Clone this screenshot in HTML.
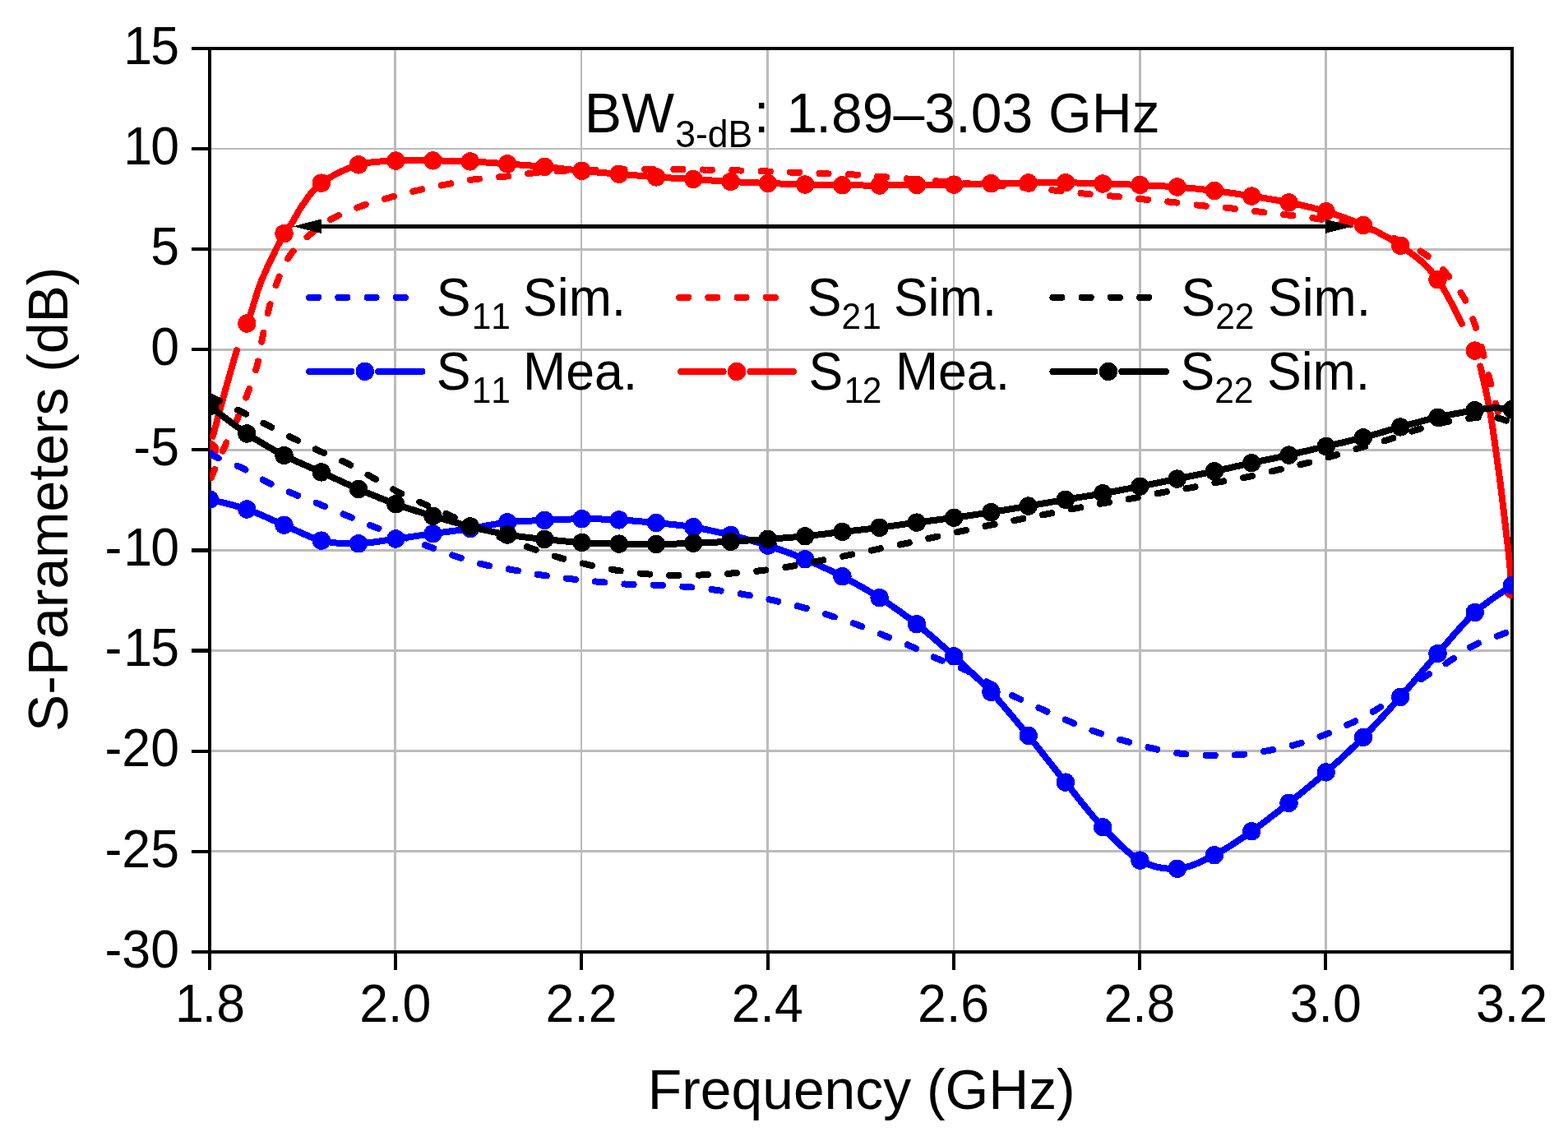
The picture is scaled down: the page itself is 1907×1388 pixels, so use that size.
<!DOCTYPE html>
<html lang="en"><head><meta charset="utf-8"><title>S-Parameters vs Frequency</title>
<style>html,body{margin:0;padding:0;background:#fff;}body{width:1907px;height:1388px;overflow:hidden;}svg{display:block;}text{font-family:"Liberation Sans",sans-serif;fill:#000;font-kerning:none;white-space:pre;}</style></head><body>
<svg role="img" aria-label="S-Parameters (dB) versus Frequency (GHz)" width="1907" height="1388" viewBox="0 0 1907 1388">
<rect width="1907" height="1388" fill="#fff"/>
<defs><clipPath id="pc"><rect x="255.0" y="59.0" width="1584.7" height="1099.0"/></clipPath></defs>
<g fill="#bbbbbb" shape-rendering="crispEdges">
<rect x="479" y="61" width="3" height="1095"/>
<rect x="706" y="61" width="2" height="1095"/>
<rect x="932" y="61" width="3" height="1095"/>
<rect x="1159" y="61" width="2" height="1095"/>
<rect x="1385" y="61" width="3" height="1095"/>
<rect x="1611" y="61" width="3" height="1095"/>
<rect x="257" y="180" width="1580" height="2"/>
<rect x="257" y="302" width="1580" height="3"/>
<rect x="257" y="424" width="1580" height="3"/>
<rect x="257" y="546" width="1580" height="3"/>
<rect x="257" y="668" width="1580" height="3"/>
<rect x="257" y="790" width="1580" height="3"/>
<rect x="257" y="912" width="1580" height="3"/>
<rect x="257" y="1034" width="1580" height="3"/>
</g>
<g fill="#000" shape-rendering="crispEdges">
<rect x="233" y="57" width="1608" height="4"/>
<rect x="233" y="1156" width="1608" height="4"/>
<rect x="253" y="57" width="4" height="1123"/>
<rect x="1837" y="57" width="4" height="1123"/>
<rect x="233" y="179" width="20" height="4"/>
<rect x="233" y="301" width="20" height="4"/>
<rect x="233" y="423" width="20" height="4"/>
<rect x="233" y="545" width="20" height="4"/>
<rect x="233" y="667" width="20" height="5"/>
<rect x="233" y="789" width="20" height="5"/>
<rect x="233" y="912" width="20" height="4"/>
<rect x="233" y="1034" width="20" height="4"/>
<rect x="479" y="1160" width="4" height="20"/>
<rect x="705" y="1160" width="4" height="20"/>
<rect x="932" y="1160" width="4" height="20"/>
<rect x="1158" y="1160" width="4" height="20"/>
<rect x="1384" y="1160" width="4" height="20"/>
<rect x="1610" y="1160" width="4" height="20"/>
</g>
<g clip-path="url(#pc)" fill="none" stroke-linejoin="round" shape-rendering="crispEdges">
<path d="M254.0 590.0 L254.1 589.7 L254.2 589.4 L254.3 589.1 L254.4 588.7 L254.5 588.3 L254.7 587.9 L254.8 587.5 L254.9 587.1 L255.1 586.6 L255.2 586.1 L255.4 585.6 L255.6 585.0 L255.7 584.5 L255.9 583.9 L256.2 583.2 L256.4 582.6 L256.6 581.9 L256.9 581.2 L257.1 580.4 L257.4 579.6 L257.8 578.8 L258.1 578.0 L258.4 577.1 L258.8 576.2 L259.2 575.2 L259.6 574.2 L260.1 573.2 L260.5 572.1 L261.0 571.0 L261.5 569.8 L262.0 568.6 L262.5 567.4 L263.1 566.1 L263.7 564.8 L264.2 563.5 L264.8 562.2 L265.4 560.8 L266.0 559.4 L266.6 558.0 L267.2 556.6 L267.9 555.2 L268.5 553.8 L269.1 552.4 L269.8 551.0 L270.4 549.5 L271.0 548.1 L271.7 546.7 L272.3 545.3 L272.9 543.9 L273.6 542.4 L274.3 541.0 L274.9 539.5 L275.6 537.9 L276.3 536.4 L277.1 534.8 L277.8 533.3 L278.5 531.7 L279.2 530.1 L280.0 528.5 L280.7 527.0 L281.4 525.4 L282.2 523.8 L282.9 522.2 L283.6 520.6 L284.3 519.1 L285.0 517.5 L285.7 516.0 L286.4 514.5 L287.0 513.1 L287.7 511.6 L288.3 510.2 L288.9 508.8 L289.5 507.4 L290.1 506.1 L290.6 504.8 L291.2 503.6 L291.7 502.3 L292.2 501.1 L292.7 499.9 L293.2 498.7 L293.7 497.5 L294.2 496.4 L294.7 495.2 L295.1 494.0 L295.6 492.9 L296.1 491.7 L296.5 490.6 L297.0 489.4 L297.5 488.2 L297.9 487.1 L298.4 485.8 L298.9 484.6 L299.3 483.4 L299.8 482.1 L300.3 480.8 L300.8 479.5 L301.3 478.2 L301.8 476.8 L302.3 475.4 L302.8 474.0 L303.4 472.6 L303.9 471.2 L304.4 469.7 L305.0 468.3 L305.5 466.8 L306.0 465.4 L306.6 463.9 L307.1 462.4 L307.6 460.9 L308.1 459.4 L308.6 457.9 L309.1 456.4 L309.6 454.9 L310.1 453.5 L310.6 452.0 L311.0 450.5 L311.5 449.0 L311.9 447.5 L312.3 446.1 L312.7 444.6 L313.1 443.1 L313.4 441.7 L313.8 440.2 L314.1 438.8 L314.4 437.3 L314.7 435.9 L315.0 434.4 L315.3 432.9 L315.6 431.5 L315.8 430.0 L316.1 428.6 L316.3 427.1 L316.6 425.6 L316.8 424.2 L317.1 422.7 L317.3 421.3 L317.5 419.8 L317.8 418.4 L318.0 416.9 L318.3 415.5 L318.6 414.0 L318.8 412.6 L319.1 411.1 L319.4 409.7 L319.7 408.3 L320.0 406.8 L320.3 405.4 L320.6 404.0 L320.9 402.5 L321.2 401.1 L321.5 399.7 L321.8 398.2 L322.1 396.8 L322.4 395.4 L322.7 393.9 L323.0 392.5 L323.3 391.1 L323.6 389.7 L323.9 388.2 L324.2 386.8 L324.6 385.4 L324.9 384.0 L325.2 382.6 L325.6 381.2 L325.9 379.8 L326.3 378.4 L326.6 377.0 L327.0 375.6 L327.4 374.2 L327.7 372.8 L328.1 371.4 L328.5 370.1 L328.9 368.7 L329.2 367.3 L329.6 365.9 L330.0 364.6 L330.4 363.2 L330.8 361.8 L331.2 360.5 L331.6 359.1 L332.0 357.7 L332.4 356.4 L332.8 355.0 L333.3 353.7 L333.7 352.3 L334.2 351.0 L334.6 349.6 L335.1 348.3 L335.6 346.9 L336.1 345.6 L336.6 344.2 L337.1 342.9 L337.6 341.6 L338.2 340.2 L338.7 338.9 L339.2 337.5 L339.8 336.1 L340.3 334.8 L340.9 333.4 L341.4 332.0 L342.0 330.7 L342.6 329.3 L343.2 328.0 L343.8 326.6 L344.4 325.3 L345.0 324.0 L345.7 322.6 L346.3 321.3 L347.0 320.0 L347.7 318.7 L348.4 317.4 L349.1 316.2 L349.9 314.9 L350.6 313.7 L351.4 312.5 L352.2 311.3 L353.0 310.1 L353.9 309.0 L354.7 307.8 L355.6 306.7 L356.5 305.6 L357.4 304.5 L358.3 303.4 L359.3 302.3 L360.2 301.2 L361.2 300.2 L362.2 299.1 L363.2 298.1 L364.2 297.0 L365.2 296.0 L366.3 295.0 L367.3 294.0 L368.4 293.0 L369.5 292.0 L370.6 291.0 L371.6 290.0 L372.7 289.0 L373.9 288.0 L375.0 287.1 L376.1 286.1 L377.2 285.1 L378.4 284.2 L379.6 283.2 L380.8 282.2 L382.0 281.3 L383.2 280.3 L384.4 279.4 L385.6 278.4 L386.9 277.5 L388.1 276.5 L389.4 275.6 L390.7 274.7 L392.0 273.8 L393.3 272.9 L394.6 272.0 L395.9 271.1 L397.2 270.3 L398.5 269.4 L399.8 268.6 L401.1 267.8 L402.4 267.0 L403.8 266.2 L405.1 265.4 L406.4 264.7 L407.7 264.0 L409.0 263.3 L410.4 262.6 L411.7 261.9 L413.0 261.3 L414.4 260.6 L415.7 260.0 L417.1 259.4 L418.4 258.8 L419.8 258.2 L421.2 257.6 L422.5 257.1 L423.9 256.5 L425.3 256.0 L426.6 255.4 L428.0 254.9 L429.4 254.4 L430.8 253.9 L432.2 253.3 L433.6 252.8 L435.0 252.3 L436.4 251.8 L437.8 251.3 L439.2 250.8 L440.6 250.3 L442.0 249.8 L443.5 249.3 L444.9 248.8 L446.3 248.4 L447.8 247.9 L449.2 247.4 L450.7 247.0 L452.1 246.5 L453.6 246.1 L455.0 245.7 L456.5 245.2 L458.0 244.8 L459.4 244.4 L460.9 244.0 L462.3 243.6 L463.8 243.1 L465.3 242.7 L466.7 242.3 L468.2 241.9 L469.7 241.5 L471.1 241.1 L472.6 240.7 L474.0 240.3 L475.4 239.9 L476.9 239.5 L478.3 239.1 L479.8 238.7 L481.2 238.3 L482.7 237.9 L484.1 237.5 L485.5 237.1 L487.0 236.8 L488.4 236.4 L489.9 236.0 L491.3 235.6 L492.7 235.3 L494.2 234.9 L495.6 234.5 L497.0 234.2 L498.5 233.8 L499.9 233.5 L501.4 233.1 L502.8 232.8 L504.2 232.4 L505.6 232.1 L507.1 231.7 L508.5 231.4 L509.9 231.1 L511.3 230.7 L512.8 230.4 L514.2 230.1 L515.6 229.8 L517.0 229.5 L518.4 229.2 L519.8 228.9 L521.2 228.6 L522.6 228.3 L524.0 228.0 L525.5 227.7 L526.9 227.5 L528.3 227.2 L529.7 226.9 L531.1 226.6 L532.5 226.3 L533.9 226.1 L535.3 225.8 L536.8 225.5 L538.2 225.2 L539.6 225.0 L541.1 224.7 L542.5 224.4 L543.9 224.1 L545.4 223.8 L546.9 223.6 L548.3 223.3 L549.8 223.0 L551.2 222.7 L552.7 222.4 L554.2 222.1 L555.6 221.9 L557.1 221.6 L558.6 221.3 L560.1 221.0 L561.5 220.7 L563.0 220.5 L564.5 220.2 L566.0 220.0 L567.5 219.7 L568.9 219.4 L570.4 219.2 L571.9 219.0 L573.4 218.7 L574.9 218.5 L576.3 218.3 L577.8 218.1 L579.3 217.9 L580.7 217.7 L582.2 217.6 L583.7 217.4 L585.2 217.2 L586.6 217.1 L588.1 216.9 L589.6 216.8 L591.0 216.7 L592.5 216.6 L594.0 216.4 L595.5 216.3 L596.9 216.2 L598.4 216.1 L599.9 216.0 L601.3 215.9 L602.8 215.7 L604.3 215.6 L605.7 215.5 L607.2 215.4 L608.7 215.2 L610.2 215.1 L611.6 215.0 L613.1 214.8 L614.6 214.6 L616.1 214.5 L617.5 214.3 L619.0 214.1 L620.5 213.9 L622.0 213.8 L623.5 213.6 L625.0 213.4 L626.5 213.2 L628.0 213.0 L629.5 212.8 L631.0 212.6 L632.5 212.4 L634.0 212.2 L635.4 212.0 L636.9 211.8 L638.4 211.7 L639.8 211.5 L641.3 211.3 L642.7 211.1 L644.2 211.0 L645.6 210.8 L647.0 210.6 L648.4 210.5 L649.8 210.4 L651.2 210.2 L652.5 210.1 L653.9 210.0 L655.2 209.8 L656.5 209.7 L657.8 209.6 L659.1 209.5 L660.4 209.4 L661.7 209.3 L663.0 209.1 L664.3 209.0 L665.6 208.9 L666.9 208.8 L668.1 208.7 L669.4 208.7 L670.7 208.6 L672.0 208.5 L673.3 208.4 L674.6 208.3 L676.0 208.2 L677.3 208.2 L678.6 208.1 L680.0 208.0 L681.4 207.9 L682.7 207.9 L684.1 207.8 L685.5 207.7 L686.9 207.7 L688.3 207.6 L689.7 207.6 L691.1 207.5 L692.5 207.5 L693.9 207.5 L695.3 207.4 L696.7 207.4 L698.1 207.4 L699.6 207.3 L701.0 207.3 L702.4 207.3 L703.9 207.2 L705.3 207.2 L706.7 207.2 L708.2 207.1 L709.6 207.1 L711.1 207.1 L712.5 207.0 L714.0 207.0 L715.5 207.0 L716.9 206.9 L718.4 206.9 L719.8 206.9 L721.3 206.8 L722.8 206.8 L724.2 206.8 L725.7 206.7 L727.2 206.7 L728.7 206.7 L730.1 206.6 L731.6 206.6 L733.1 206.6 L734.6 206.5 L736.1 206.5 L737.6 206.5 L739.1 206.5 L740.7 206.4 L742.2 206.4 L743.7 206.4 L745.3 206.4 L746.9 206.3 L748.4 206.3 L750.0 206.3 L751.6 206.3 L753.2 206.3 L754.8 206.2 L756.5 206.2 L758.1 206.2 L759.8 206.2 L761.5 206.2 L763.2 206.2 L764.9 206.1 L766.6 206.1 L768.3 206.1 L770.0 206.1 L771.7 206.1 L773.4 206.1 L775.1 206.1 L776.8 206.1 L778.5 206.1 L780.2 206.1 L781.9 206.0 L783.5 206.0 L785.2 206.0 L786.8 206.0 L788.4 206.0 L790.0 206.0 L791.6 206.0 L793.1 206.0 L794.7 206.0 L796.2 206.0 L797.8 206.0 L799.3 205.9 L800.8 205.9 L802.3 205.9 L803.8 205.9 L805.3 205.9 L806.8 205.9 L808.3 205.9 L809.8 205.9 L811.3 205.9 L812.7 205.9 L814.2 205.9 L815.7 205.9 L817.2 205.9 L818.6 205.9 L820.1 205.9 L821.6 205.9 L823.0 205.9 L824.5 205.9 L826.0 205.9 L827.5 205.9 L828.9 205.9 L830.4 205.9 L831.9 206.0 L833.3 206.0 L834.8 206.0 L836.3 206.0 L837.7 206.1 L839.2 206.1 L840.6 206.1 L842.1 206.2 L843.5 206.2 L845.0 206.2 L846.4 206.3 L847.9 206.3 L849.3 206.3 L850.8 206.4 L852.2 206.4 L853.7 206.4 L855.1 206.5 L856.6 206.5 L858.1 206.5 L859.5 206.6 L861.0 206.6 L862.5 206.6 L864.0 206.7 L865.4 206.7 L866.9 206.7 L868.4 206.8 L869.9 206.8 L871.4 206.8 L872.9 206.9 L874.4 206.9 L875.9 206.9 L877.4 206.9 L878.9 207.0 L880.4 207.0 L881.8 207.0 L883.3 207.1 L884.8 207.1 L886.3 207.1 L887.8 207.2 L889.3 207.2 L890.8 207.3 L892.2 207.3 L893.7 207.3 L895.1 207.4 L896.6 207.4 L898.0 207.4 L899.5 207.5 L900.9 207.5 L902.3 207.6 L903.7 207.6 L905.2 207.6 L906.6 207.7 L908.0 207.7 L909.4 207.7 L910.8 207.8 L912.2 207.8 L913.6 207.9 L914.9 207.9 L916.3 208.0 L917.7 208.0 L919.1 208.0 L920.6 208.1 L922.0 208.1 L923.4 208.2 L924.8 208.2 L926.2 208.3 L927.7 208.3 L929.1 208.4 L930.6 208.4 L932.1 208.4 L933.6 208.5 L935.0 208.5 L936.5 208.6 L938.1 208.6 L939.6 208.7 L941.1 208.8 L942.6 208.8 L944.1 208.9 L945.7 208.9 L947.2 209.0 L948.7 209.0 L950.3 209.1 L951.8 209.1 L953.3 209.2 L954.9 209.2 L956.4 209.3 L957.9 209.4 L959.5 209.4 L961.0 209.5 L962.5 209.5 L964.0 209.6 L965.5 209.6 L967.0 209.7 L968.5 209.8 L970.0 209.8 L971.4 209.9 L972.9 209.9 L974.4 210.0 L975.8 210.1 L977.3 210.1 L978.7 210.2 L980.2 210.3 L981.7 210.3 L983.1 210.4 L984.5 210.5 L986.0 210.5 L987.4 210.6 L988.9 210.7 L990.3 210.7 L991.8 210.8 L993.2 210.8 L994.7 210.9 L996.1 211.0 L997.6 211.0 L999.1 211.1 L1000.5 211.1 L1002.0 211.2 L1003.5 211.3 L1004.9 211.3 L1006.4 211.4 L1007.9 211.4 L1009.4 211.4 L1010.9 211.5 L1012.3 211.5 L1013.8 211.6 L1015.3 211.6 L1016.8 211.7 L1018.3 211.7 L1019.8 211.7 L1021.3 211.8 L1022.8 211.8 L1024.2 211.9 L1025.7 211.9 L1027.2 212.0 L1028.7 212.0 L1030.2 212.1 L1031.7 212.1 L1033.2 212.2 L1034.6 212.3 L1036.1 212.3 L1037.6 212.4 L1039.1 212.5 L1040.6 212.6 L1042.0 212.7 L1043.5 212.7 L1045.0 212.8 L1046.4 212.9 L1047.9 213.0 L1049.4 213.1 L1050.8 213.3 L1052.3 213.4 L1053.7 213.5 L1055.2 213.6 L1056.7 213.7 L1058.1 213.8 L1059.6 213.9 L1061.1 214.1 L1062.6 214.2 L1064.0 214.3 L1065.5 214.4 L1067.0 214.5 L1068.5 214.6 L1070.0 214.8 L1071.5 214.9 L1073.0 215.0 L1074.5 215.1 L1076.0 215.2 L1077.5 215.3 L1078.9 215.5 L1080.4 215.6 L1081.9 215.7 L1083.3 215.8 L1084.8 215.9 L1086.2 216.1 L1087.7 216.2 L1089.2 216.3 L1090.7 216.4 L1092.1 216.5 L1093.7 216.7 L1095.2 216.8 L1096.7 216.9 L1098.3 217.0 L1099.9 217.2 L1101.5 217.3 L1103.1 217.4 L1104.8 217.6 L1106.5 217.7 L1108.2 217.9 L1110.0 218.0 L1111.8 218.1 L1113.7 218.3 L1115.6 218.5 L1117.6 218.6 L1119.6 218.8 L1121.6 219.0 L1123.7 219.1 L1125.7 219.3 L1127.8 219.5 L1130.0 219.6 L1132.1 219.8 L1134.2 220.0 L1136.4 220.2 L1138.5 220.4 L1140.7 220.5 L1142.8 220.7 L1144.9 220.9 L1147.0 221.0 L1149.1 221.2 L1151.2 221.4 L1153.2 221.5 L1155.2 221.7 L1157.1 221.9 L1159.0 222.0 L1160.9 222.1 L1162.7 222.3 L1164.4 222.4 L1166.2 222.6 L1167.9 222.7 L1169.6 222.8 L1171.3 222.9 L1172.9 223.1 L1174.6 223.2 L1176.2 223.3 L1177.8 223.4 L1179.4 223.5 L1181.1 223.6 L1182.7 223.8 L1184.3 223.9 L1186.0 224.0 L1187.6 224.1 L1189.3 224.2 L1191.0 224.4 L1192.7 224.5 L1194.5 224.6 L1196.3 224.7 L1198.1 224.9 L1200.0 225.0 L1201.9 225.1 L1203.9 225.3 L1205.9 225.4 L1208.0 225.6 L1210.1 225.7 L1212.2 225.8 L1214.4 226.0 L1216.6 226.1 L1218.8 226.3 L1221.0 226.4 L1223.2 226.6 L1225.4 226.7 L1227.6 226.9 L1229.8 227.0 L1232.0 227.2 L1234.1 227.3 L1236.3 227.5 L1238.4 227.6 L1240.4 227.8 L1242.4 227.9 L1244.4 228.1 L1246.3 228.2 L1248.2 228.4 L1250.0 228.5 L1251.7 228.6 L1253.4 228.8 L1255.1 228.9 L1256.7 229.1 L1258.2 229.2 L1259.7 229.3 L1261.2 229.5 L1262.7 229.6 L1264.1 229.7 L1265.5 229.9 L1266.9 230.0 L1268.3 230.1 L1269.7 230.3 L1271.0 230.4 L1272.4 230.5 L1273.7 230.7 L1275.0 230.8 L1276.4 230.9 L1277.7 231.1 L1279.1 231.2 L1280.5 231.4 L1281.9 231.5 L1283.3 231.7 L1284.7 231.8 L1286.1 231.9 L1287.6 232.1 L1289.0 232.3 L1290.5 232.4 L1291.9 232.6 L1293.4 232.7 L1294.8 232.9 L1296.3 233.1 L1297.7 233.2 L1299.2 233.4 L1300.6 233.5 L1302.1 233.7 L1303.5 233.9 L1305.0 234.0 L1306.4 234.2 L1307.9 234.4 L1309.3 234.5 L1310.8 234.7 L1312.2 234.8 L1313.7 235.0 L1315.1 235.2 L1316.6 235.3 L1318.0 235.5 L1319.5 235.6 L1321.0 235.7 L1322.4 235.9 L1323.9 236.0 L1325.3 236.2 L1326.8 236.3 L1328.3 236.4 L1329.7 236.6 L1331.2 236.7 L1332.7 236.8 L1334.1 237.0 L1335.6 237.1 L1337.1 237.2 L1338.5 237.3 L1340.0 237.5 L1341.5 237.6 L1342.9 237.7 L1344.4 237.9 L1345.9 238.0 L1347.4 238.1 L1348.8 238.3 L1350.3 238.4 L1351.8 238.5 L1353.2 238.7 L1354.7 238.8 L1356.2 238.9 L1357.6 239.1 L1359.1 239.2 L1360.6 239.4 L1362.0 239.5 L1363.5 239.7 L1365.0 239.8 L1366.5 240.0 L1367.9 240.1 L1369.4 240.3 L1370.9 240.4 L1372.3 240.6 L1373.8 240.7 L1375.3 240.9 L1376.8 241.0 L1378.2 241.2 L1379.7 241.3 L1381.2 241.5 L1382.7 241.6 L1384.1 241.8 L1385.6 242.0 L1387.1 242.1 L1388.5 242.3 L1390.0 242.4 L1391.5 242.5 L1392.9 242.7 L1394.4 242.8 L1395.9 243.0 L1397.3 243.1 L1398.8 243.3 L1400.3 243.4 L1401.7 243.6 L1403.2 243.7 L1404.7 243.8 L1406.1 244.0 L1407.6 244.1 L1409.1 244.3 L1410.5 244.4 L1412.0 244.5 L1413.5 244.7 L1414.9 244.8 L1416.4 245.0 L1417.9 245.1 L1419.3 245.3 L1420.8 245.4 L1422.3 245.6 L1423.7 245.7 L1425.2 245.9 L1426.7 246.1 L1428.1 246.2 L1429.6 246.4 L1431.1 246.6 L1432.5 246.7 L1434.0 246.9 L1435.5 247.1 L1436.9 247.3 L1438.4 247.4 L1439.9 247.6 L1441.3 247.8 L1442.8 248.0 L1444.3 248.1 L1445.7 248.3 L1447.2 248.5 L1448.7 248.7 L1450.1 248.9 L1451.6 249.0 L1453.1 249.2 L1454.5 249.4 L1456.0 249.5 L1457.5 249.7 L1458.9 249.8 L1460.4 250.0 L1461.9 250.1 L1463.3 250.3 L1464.8 250.4 L1466.3 250.6 L1467.7 250.7 L1469.2 250.8 L1470.7 251.0 L1472.1 251.1 L1473.6 251.2 L1475.1 251.3 L1476.5 251.5 L1478.0 251.6 L1479.5 251.7 L1480.9 251.8 L1482.4 252.0 L1483.9 252.1 L1485.3 252.2 L1486.8 252.3 L1488.3 252.5 L1489.7 252.6 L1491.2 252.8 L1492.7 252.9 L1494.1 253.0 L1495.6 253.2 L1497.1 253.4 L1498.5 253.5 L1500.0 253.7 L1501.5 253.9 L1502.9 254.0 L1504.4 254.2 L1505.9 254.4 L1507.4 254.6 L1508.8 254.7 L1510.3 254.9 L1511.8 255.1 L1513.2 255.3 L1514.7 255.5 L1516.2 255.7 L1517.7 255.9 L1519.1 256.0 L1520.6 256.2 L1522.1 256.4 L1523.6 256.6 L1525.0 256.8 L1526.5 257.0 L1528.0 257.1 L1529.4 257.3 L1530.9 257.5 L1532.4 257.7 L1533.8 257.8 L1535.3 258.0 L1536.8 258.2 L1538.3 258.3 L1539.7 258.5 L1541.2 258.7 L1542.7 258.8 L1544.1 259.0 L1545.6 259.2 L1547.1 259.3 L1548.5 259.5 L1550.0 259.7 L1551.5 259.8 L1553.0 260.0 L1554.4 260.2 L1555.9 260.3 L1557.4 260.5 L1558.8 260.7 L1560.3 260.8 L1561.7 261.0 L1563.2 261.2 L1564.6 261.3 L1566.1 261.5 L1567.6 261.7 L1569.0 261.8 L1570.4 262.0 L1571.9 262.2 L1573.3 262.3 L1574.8 262.5 L1576.2 262.7 L1577.7 262.8 L1579.1 263.0 L1580.5 263.2 L1582.0 263.3 L1583.4 263.5 L1584.8 263.7 L1586.3 263.9 L1587.7 264.0 L1589.1 264.2 L1590.6 264.4 L1592.0 264.6 L1593.4 264.8 L1594.9 265.0 L1596.3 265.2 L1597.7 265.4 L1599.2 265.6 L1600.6 265.8 L1602.0 266.0 L1603.5 266.2 L1604.9 266.5 L1606.3 266.7 L1607.8 266.9 L1609.2 267.2 L1610.6 267.4 L1612.1 267.7 L1613.5 267.9 L1614.9 268.2 L1616.3 268.4 L1617.8 268.7 L1619.2 268.9 L1620.6 269.2 L1622.1 269.5 L1623.5 269.7 L1624.9 270.0 L1626.4 270.3 L1627.8 270.6 L1629.2 270.8 L1630.7 271.1 L1632.1 271.4 L1633.6 271.7 L1635.0 272.0 L1636.5 272.3 L1637.9 272.6 L1639.4 272.9 L1640.9 273.2 L1642.3 273.5 L1643.8 273.8 L1645.3 274.1 L1646.8 274.4 L1648.3 274.7" stroke="#ff0000" stroke-width="8" stroke-dasharray="11.2 24.26" stroke-dashoffset="26.2" stroke-linecap="round"/>
<path d="M1648.3 274.7 L1649.8 275.0 L1651.3 275.3 L1652.8 275.6 L1654.3 276.0 L1655.7 276.3 L1657.2 276.6 L1658.7 277.0 L1660.1 277.3 L1661.6 277.7 L1663.0 278.0 L1664.4 278.4 L1665.9 278.8 L1667.3 279.2 L1668.6 279.6 L1670.0 280.0 L1671.3 280.4 L1672.7 280.8 L1674.0 281.3 L1675.3 281.7 L1676.5 282.2 L1677.8 282.6 L1679.0 283.1 L1680.3 283.5 L1681.5 284.0 L1682.7 284.5 L1683.9 284.9 L1685.1 285.4 L1686.3 285.9 L1687.5 286.4 L1688.8 287.0 L1690.0 287.5 L1691.2 288.0 L1692.4 288.6 L1693.6 289.1 L1694.9 289.7 L1696.1 290.2 L1697.4 290.8 L1698.7 291.4 L1700.0 292.0 L1701.3 292.6 L1702.7 293.2 L1704.0 293.9 L1705.4 294.5 L1706.8 295.1 L1708.2 295.8 L1709.6 296.5 L1711.1 297.1 L1712.5 297.8 L1713.9 298.5 L1715.4 299.2 L1716.8 299.9 L1718.2 300.6 L1719.7 301.3 L1721.1 302.1 L1722.5 302.8 L1723.9 303.6 L1725.2 304.3 L1726.6 305.1 L1727.9 305.8 L1729.2 306.6 L1730.5 307.4 L1731.7 308.2 L1732.9 309.0 L1734.1 309.8 L1735.2 310.6 L1736.4 311.4 L1737.5 312.2 L1738.5 313.1 L1739.6 313.9 L1740.6 314.7 L1741.7 315.5 L1742.7 316.4 L1743.7 317.2 L1744.7 318.1 L1745.6 319.0 L1746.6 319.9 L1747.6 320.8 L1748.5 321.7 L1749.5 322.6 L1750.4 323.5 L1751.4 324.5 L1752.3 325.5 L1753.3 326.4 L1754.2 327.5 L1755.2 328.5 L1756.1 329.5 L1757.1 330.6 L1758.1 331.7 L1759.1 332.8 L1760.1 333.9 L1761.0 335.1 L1762.0 336.3 L1763.0 337.5 L1764.0 338.7 L1765.0 339.9 L1766.0 341.2 L1767.0 342.4 L1768.0 343.7 L1769.0 345.0 L1769.9 346.3 L1770.9 347.6 L1771.9 348.9 L1772.8 350.2 L1773.7 351.6 L1774.6 352.9 L1775.5 354.2 L1776.4 355.6 L1777.2 356.9 L1778.0 358.2 L1778.8 359.6 L1779.6 360.9 L1780.4 362.2 L1781.1 363.6 L1781.8 364.9 L1782.5 366.3 L1783.2 367.7 L1783.8 369.1 L1784.5 370.5 L1785.1 371.9 L1785.7 373.3 L1786.3 374.7 L1786.9 376.1 L1787.4 377.5 L1788.0 378.9 L1788.6 380.3 L1789.1 381.8 L1789.6 383.2 L1790.2 384.6 L1790.7 386.0 L1791.2 387.5 L1791.7 388.9 L1792.2 390.3 L1792.7 391.8 L1793.2 393.2 L1793.7 394.6 L1794.2 396.0 L1794.7 397.4 L1795.1 398.9 L1795.6 400.3 L1796.0 401.7 L1796.5 403.2 L1796.9 404.6 L1797.3 406.0 L1797.7 407.5 L1798.2 408.9 L1798.6 410.4 L1799.0 411.8 L1799.3 413.2 L1799.7 414.7 L1800.1 416.1 L1800.5 417.6 L1800.9 419.0 L1801.2 420.4 L1801.6 421.9 L1802.0 423.3 L1802.4 424.7 L1802.7 426.2 L1803.1 427.6 L1803.5 429.0 L1803.9 430.4 L1804.3 431.8 L1804.6 433.3 L1805.0 434.7 L1805.4 436.1 L1805.7 437.5 L1806.1 438.9 L1806.4 440.4 L1806.8 441.8 L1807.1 443.2 L1807.5 444.6 L1807.8 446.0 L1808.2 447.4 L1808.5 448.8 L1808.9 450.2 L1809.2 451.6 L1809.6 453.0 L1809.9 454.4 L1810.3 455.8 L1810.6 457.2 L1811.0 458.6 L1811.3 460.0 L1811.7 461.4 L1812.0 462.8 L1812.4 464.2 L1812.7 465.6 L1813.1 467.1 L1813.5 468.6 L1813.8 470.1 L1814.2 471.7 L1814.6 473.2 L1815.0 474.7 L1815.4 476.3 L1815.8 477.8 L1816.1 479.3 L1816.5 480.8 L1816.9 482.3 L1817.3 483.8 L1817.6 485.2 L1818.0 486.5 L1818.3 487.9 L1818.6 489.2 L1818.9 490.4 L1819.2 491.6 L1819.5 492.6 L1819.7 493.7 L1820.0 494.6 L1820.2 495.5 L1820.4 496.3 L1820.6 497.0 L1820.7 497.7 L1820.9 498.2 L1821.0 498.8 L1821.1 499.2 L1821.2 499.6 L1821.3 500.0 L1821.4 500.3 L1821.5 500.6 L1821.6 500.8 L1821.6 501.0 L1821.7 501.2 L1821.7 501.4 L1821.7 501.5 L1821.8 501.6 L1821.8 501.7 L1821.8 501.8 L1821.9 501.9 L1821.9 502.0 L1821.9 502.1 L1821.9 502.2 L1822.0 502.4 L1822.0 502.5" stroke="#ff0000" stroke-width="8" stroke-dasharray="11.2 24.26" stroke-dashoffset="20.9" stroke-linecap="round"/>
<path d="M258.9 530.8 C261.1 522.7 267.0 499.9 272.0 482.0 C277.0 464.1 284.2 437.9 288.9 423.2 C293.6 408.4 297.5 400.9 300.3 393.5 C303.1 386.1 302.6 387.8 305.7 378.9 C308.8 370.0 312.0 355.8 318.6 340.0 C325.3 324.2 339.4 295.6 345.5 284.1 C351.6 272.6 351.6 276.7 355.3 271.0 C359.0 265.3 361.7 258.1 367.6 250.0 C373.5 241.9 379.4 230.9 390.8 222.6 C402.2 214.3 420.9 204.9 436.0 200.4 C451.1 195.9 466.2 196.4 481.3 195.6 C496.4 194.8 511.5 195.3 526.5 195.4 C541.6 195.5 556.7 195.7 571.8 196.4 C586.9 197.1 602.0 198.3 617.1 199.4 C632.1 200.5 647.2 201.5 662.3 202.9 C677.4 204.3 692.5 206.4 707.6 207.9 C722.7 209.4 737.7 210.4 752.8 211.7 C767.9 212.9 783.0 214.3 798.1 215.4 C813.2 216.5 828.3 217.1 843.3 218.0 C858.4 218.9 873.5 220.2 888.6 221.0 C903.7 221.8 918.8 222.4 933.9 223.0 C948.9 223.6 964.0 224.1 979.1 224.5 C994.2 224.9 1009.3 225.1 1024.4 225.3 C1039.5 225.5 1054.5 225.6 1069.6 225.5 C1084.7 225.4 1099.8 225.2 1114.9 225.0 C1130.0 224.8 1145.1 224.9 1160.1 224.6 C1175.2 224.3 1190.3 223.5 1205.4 223.2 C1220.5 222.8 1235.6 222.7 1250.7 222.5 C1265.7 222.3 1280.8 222.0 1295.9 222.2 C1311.0 222.4 1326.1 223.0 1341.2 223.5 C1356.3 224.0 1371.3 224.3 1386.4 225.0 C1401.5 225.7 1416.6 226.3 1431.7 227.5 C1446.8 228.7 1461.9 230.2 1476.9 232.0 C1492.0 233.8 1507.1 236.2 1522.2 238.6 C1537.3 241.0 1552.4 243.2 1567.5 246.3 C1582.5 249.4 1597.6 252.7 1612.7 257.3 C1627.8 261.9 1642.9 267.2 1658.0 274.1 C1673.1 281.0 1688.1 287.7 1703.2 298.7 C1718.3 309.7 1733.4 318.9 1748.5 340.2 C1763.6 361.5 1785.3 410.0 1793.7 426.6 C1802.1 443.2 1796.1 429.1 1798.9 440.0 C1801.7 450.9 1807.7 477.5 1810.6 491.9 C1813.5 506.3 1814.5 515.0 1816.2 526.4 C1817.9 537.8 1819.4 549.1 1820.9 560.0 C1822.4 570.9 1823.9 581.1 1825.2 591.7 C1826.5 602.3 1827.5 610.2 1829.0 623.4 C1830.5 636.6 1832.8 655.4 1834.5 671.0 C1836.2 686.6 1838.2 709.3 1839.0 717.0" stroke="#ff0000" stroke-width="8" stroke-linecap="round" stroke-dasharray="108.5 35.1 1649.7 57.1 324.9 0"/>
<g fill="#ff0000" stroke="none">
<circle cx="255.0" cy="547.0" r="11.2"/>
<circle cx="300.3" cy="393.5" r="11.2"/>
<circle cx="345.5" cy="284.1" r="11.2"/>
<circle cx="390.8" cy="222.6" r="11.2"/>
<circle cx="436.0" cy="200.4" r="11.2"/>
<circle cx="481.3" cy="195.6" r="11.2"/>
<circle cx="526.5" cy="195.4" r="11.2"/>
<circle cx="571.8" cy="196.4" r="11.2"/>
<circle cx="617.1" cy="199.4" r="11.2"/>
<circle cx="662.3" cy="202.9" r="11.2"/>
<circle cx="707.6" cy="207.9" r="11.2"/>
<circle cx="752.8" cy="211.7" r="11.2"/>
<circle cx="798.1" cy="215.4" r="11.2"/>
<circle cx="843.3" cy="218.0" r="11.2"/>
<circle cx="888.6" cy="221.0" r="11.2"/>
<circle cx="933.9" cy="223.0" r="11.2"/>
<circle cx="979.1" cy="224.5" r="11.2"/>
<circle cx="1024.4" cy="225.3" r="11.2"/>
<circle cx="1069.6" cy="225.5" r="11.2"/>
<circle cx="1114.9" cy="225.0" r="11.2"/>
<circle cx="1160.1" cy="224.6" r="11.2"/>
<circle cx="1205.4" cy="223.2" r="11.2"/>
<circle cx="1250.7" cy="222.5" r="11.2"/>
<circle cx="1295.9" cy="222.2" r="11.2"/>
<circle cx="1341.2" cy="223.5" r="11.2"/>
<circle cx="1386.4" cy="225.0" r="11.2"/>
<circle cx="1431.7" cy="227.5" r="11.2"/>
<circle cx="1476.9" cy="232.0" r="11.2"/>
<circle cx="1522.2" cy="238.6" r="11.2"/>
<circle cx="1567.5" cy="246.3" r="11.2"/>
<circle cx="1612.7" cy="257.3" r="11.2"/>
<circle cx="1658.0" cy="274.1" r="11.2"/>
<circle cx="1703.2" cy="298.7" r="11.2"/>
<circle cx="1748.5" cy="340.2" r="11.2"/>
<circle cx="1793.7" cy="426.6" r="11.2"/>
<circle cx="1839.0" cy="717.0" r="11.2"/>
</g>
<path d="M255.0 550.0 C256.3 551.0 256.4 552.9 262.7 556.0 C269.0 559.1 282.6 563.6 292.9 568.6 C303.2 573.6 313.8 580.8 324.5 586.2 C335.2 591.6 346.3 596.2 357.2 600.8 C368.1 605.4 379.0 609.5 390.0 614.0 C401.0 618.5 412.5 623.3 423.3 627.8 C434.1 632.3 443.9 636.7 455.0 640.9 C466.1 645.1 478.8 649.0 490.0 653.0 C501.2 657.0 511.5 661.1 522.4 665.1 C533.2 669.1 543.9 673.3 555.1 677.0 C566.4 680.7 578.3 684.4 589.9 687.1 C601.5 689.8 612.9 691.3 624.5 693.4 C636.1 695.5 647.7 697.9 659.7 699.7 C671.7 701.6 684.5 703.1 696.3 704.5 C708.1 705.9 718.8 707.0 730.3 708.0 C741.8 709.0 753.3 710.2 765.1 710.8 C776.9 711.4 789.0 711.3 800.9 711.8 C812.8 712.3 824.6 713.0 836.2 714.0 C847.9 715.0 859.1 716.2 870.8 717.8 C882.5 719.4 894.6 721.3 906.3 723.4 C918.0 725.5 929.4 727.9 940.8 730.4 C952.2 732.9 963.5 735.5 974.9 738.5 C986.2 741.5 997.6 745.0 1008.9 748.6 C1020.1 752.2 1031.4 755.8 1042.4 759.9 C1053.4 764.0 1064.1 768.6 1075.0 773.0 C1085.9 777.4 1097.1 781.5 1107.7 786.1 C1118.3 790.7 1127.9 796.1 1138.7 800.8 C1149.5 805.5 1161.8 809.0 1172.8 814.2 C1183.8 819.4 1194.5 826.3 1205.0 832.0 C1215.5 837.7 1225.2 843.0 1235.8 848.2 C1246.4 853.4 1257.8 858.5 1268.6 863.4 C1279.4 868.3 1290.0 873.2 1300.8 877.7 C1311.6 882.2 1322.5 886.7 1333.6 890.6 C1344.7 894.5 1356.2 897.9 1367.6 901.2 C1379.0 904.5 1390.6 907.9 1402.2 910.5 C1413.8 913.1 1425.3 915.4 1437.0 916.8 C1448.7 918.2 1460.5 918.6 1472.3 918.8 C1484.1 919.0 1496.3 919.1 1508.1 918.1 C1519.9 917.1 1531.4 915.1 1542.9 913.0 C1554.4 910.9 1565.8 908.6 1576.9 905.5 C1588.1 902.4 1599.0 898.5 1609.8 894.3 C1620.6 890.1 1631.2 885.4 1641.7 880.4 C1652.2 875.4 1662.5 869.9 1672.6 864.0 C1682.6 858.1 1692.2 851.6 1702.0 845.0 C1711.8 838.4 1721.5 830.9 1731.5 824.3 C1741.5 817.6 1751.7 811.6 1761.8 805.1 C1771.9 798.6 1781.2 790.8 1792.0 785.3 C1802.8 779.8 1818.5 774.8 1826.3 771.8 C1834.1 768.8 1836.9 767.8 1839.0 767.0" stroke="#0000ff" stroke-width="8" stroke-dasharray="11.2 24.26" stroke-dashoffset="-2.3" stroke-linecap="round"/>
<path d="M255.0 607.6 C262.5 609.6 285.2 614.3 300.3 619.5 C315.3 624.7 330.4 632.4 345.5 638.7 C360.6 645.1 375.7 653.8 390.8 657.6 C405.9 661.4 420.9 661.6 436.0 661.3 C451.1 660.9 466.2 657.5 481.3 655.5 C496.4 653.5 511.5 651.3 526.5 649.2 C541.6 647.1 556.7 645.3 571.8 643.0 C586.9 640.7 602.0 637.1 617.1 635.4 C632.1 633.7 647.2 633.6 662.3 632.9 C677.4 632.2 692.5 631.3 707.6 631.2 C722.7 631.1 737.7 631.6 752.8 632.4 C767.9 633.2 783.0 634.6 798.1 636.1 C813.2 637.6 828.3 638.7 843.3 641.2 C858.4 643.7 873.5 647.3 888.6 651.0 C903.7 654.7 918.8 658.7 933.9 663.6 C948.9 668.5 964.0 674.0 979.1 680.3 C994.2 686.6 1009.3 693.4 1024.4 701.2 C1039.5 709.0 1054.5 717.4 1069.6 727.1 C1084.7 736.8 1099.8 747.3 1114.9 759.2 C1130.0 771.1 1145.1 784.5 1160.1 798.3 C1175.2 812.1 1190.3 825.8 1205.4 841.9 C1220.5 858.0 1235.6 876.6 1250.7 894.9 C1265.7 913.2 1280.8 933.0 1295.9 951.6 C1311.0 970.2 1326.1 990.5 1341.2 1006.3 C1356.3 1022.1 1371.3 1038.2 1386.4 1046.6 C1401.5 1055.0 1416.6 1057.8 1431.7 1056.7 C1446.8 1055.7 1461.9 1047.9 1476.9 1040.3 C1492.0 1032.7 1507.1 1021.9 1522.2 1011.3 C1537.3 1000.7 1552.4 988.8 1567.5 976.8 C1582.5 964.8 1597.6 952.7 1612.7 939.4 C1627.8 926.1 1642.9 912.1 1658.0 896.9 C1673.1 881.6 1688.1 864.9 1703.2 847.9 C1718.3 830.9 1733.4 812.1 1748.5 795.0 C1763.6 777.9 1778.7 758.8 1793.7 745.0 C1808.8 731.2 1831.5 717.5 1839.0 712.0" stroke="#0000ff" stroke-width="8" stroke-linecap="round"/>
<g fill="#0000ff" stroke="none">
<circle cx="255.0" cy="607.6" r="11.2"/>
<circle cx="300.3" cy="619.5" r="11.2"/>
<circle cx="345.5" cy="638.7" r="11.2"/>
<circle cx="390.8" cy="657.6" r="11.2"/>
<circle cx="436.0" cy="661.3" r="11.2"/>
<circle cx="481.3" cy="655.5" r="11.2"/>
<circle cx="526.5" cy="649.2" r="11.2"/>
<circle cx="571.8" cy="643.0" r="11.2"/>
<circle cx="617.1" cy="635.4" r="11.2"/>
<circle cx="662.3" cy="632.9" r="11.2"/>
<circle cx="707.6" cy="631.2" r="11.2"/>
<circle cx="752.8" cy="632.4" r="11.2"/>
<circle cx="798.1" cy="636.1" r="11.2"/>
<circle cx="843.3" cy="641.2" r="11.2"/>
<circle cx="888.6" cy="651.0" r="11.2"/>
<circle cx="933.9" cy="663.6" r="11.2"/>
<circle cx="979.1" cy="680.3" r="11.2"/>
<circle cx="1024.4" cy="701.2" r="11.2"/>
<circle cx="1069.6" cy="727.1" r="11.2"/>
<circle cx="1114.9" cy="759.2" r="11.2"/>
<circle cx="1160.1" cy="798.3" r="11.2"/>
<circle cx="1205.4" cy="841.9" r="11.2"/>
<circle cx="1250.7" cy="894.9" r="11.2"/>
<circle cx="1295.9" cy="951.6" r="11.2"/>
<circle cx="1341.2" cy="1006.3" r="11.2"/>
<circle cx="1386.4" cy="1046.6" r="11.2"/>
<circle cx="1431.7" cy="1056.7" r="11.2"/>
<circle cx="1476.9" cy="1040.3" r="11.2"/>
<circle cx="1522.2" cy="1011.3" r="11.2"/>
<circle cx="1567.5" cy="976.8" r="11.2"/>
<circle cx="1612.7" cy="939.4" r="11.2"/>
<circle cx="1658.0" cy="896.9" r="11.2"/>
<circle cx="1703.2" cy="847.9" r="11.2"/>
<circle cx="1748.5" cy="795.0" r="11.2"/>
<circle cx="1793.7" cy="745.0" r="11.2"/>
<circle cx="1839.0" cy="712.0" r="11.2"/>
</g>
<path d="M255.0 482.0 C261.3 485.1 281.3 494.7 292.9 500.5 C304.5 506.3 314.0 511.5 324.5 516.9 C335.0 522.3 345.4 527.5 356.0 532.8 C366.6 538.0 377.3 543.4 388.0 548.4 C398.7 553.4 409.8 557.5 420.3 562.8 C430.9 568.0 440.9 574.1 451.3 579.9 C461.7 585.7 471.9 592.1 482.5 597.6 C493.1 603.1 504.2 607.9 514.8 612.7 C525.4 617.5 535.4 621.7 546.3 626.6 C557.2 631.5 569.0 637.3 580.0 642.0 C591.0 646.7 601.0 650.9 612.0 655.0 C623.0 659.1 634.6 663.0 645.9 666.9 C657.2 670.8 668.4 674.9 679.9 678.2 C691.4 681.5 703.2 684.2 714.7 686.8 C726.2 689.4 737.5 691.7 749.2 693.6 C760.9 695.5 773.1 697.2 785.0 698.2 C796.9 699.2 808.5 699.7 820.3 699.9 C832.1 700.1 843.8 699.8 855.6 699.4 C867.4 699.0 879.1 698.3 890.9 697.4 C902.7 696.5 914.5 695.5 926.2 694.1 C937.9 692.7 949.3 691.1 961.0 689.1 C972.7 687.1 984.6 684.6 996.3 682.3 C1008.0 680.0 1019.5 677.8 1031.1 675.5 C1042.6 673.2 1054.0 670.8 1065.6 668.4 C1077.1 666.0 1088.8 663.7 1100.4 661.3 C1112.0 658.9 1123.3 656.4 1135.0 653.8 C1146.7 651.2 1158.8 648.4 1170.3 645.9 C1181.8 643.4 1192.8 641.1 1204.3 638.8 C1215.8 636.5 1227.3 634.3 1239.1 632.0 C1250.9 629.7 1263.2 627.3 1274.9 625.0 C1286.6 622.7 1297.9 620.4 1309.4 618.2 C1320.9 616.0 1332.2 613.8 1343.7 611.8 C1355.2 609.8 1366.7 608.2 1378.2 606.1 C1389.8 604.0 1401.4 601.3 1413.0 599.2 C1424.6 597.1 1436.0 595.5 1447.6 593.4 C1459.1 591.3 1470.8 588.6 1482.3 586.4 C1493.8 584.2 1505.2 582.7 1516.9 580.3 C1528.6 577.9 1540.5 574.7 1552.2 572.0 C1563.9 569.3 1575.7 566.8 1587.0 564.0 C1598.3 561.2 1609.0 558.2 1620.0 555.0 C1631.0 551.8 1641.7 548.3 1653.0 545.0 C1664.3 541.7 1676.5 538.6 1688.0 535.0 C1699.5 531.4 1709.7 526.9 1721.7 523.2 C1733.7 519.5 1747.8 515.5 1760.0 513.0 C1772.2 510.5 1786.3 509.1 1795.0 508.0 C1803.7 506.9 1806.9 506.2 1812.0 506.5 C1817.1 506.8 1821.3 508.4 1825.8 509.7 C1830.3 510.9 1836.8 513.3 1839.0 514.0" stroke="#000" stroke-width="8" stroke-dasharray="11.2 24.26" stroke-dashoffset="-2.2" stroke-linecap="round"/>
<path d="M255.0 494.2 C262.5 499.8 285.2 517.5 300.3 527.5 C315.3 537.5 330.4 546.2 345.5 554.0 C360.6 561.8 375.7 567.6 390.8 574.4 C405.9 581.2 420.9 588.5 436.0 595.0 C451.1 601.5 466.2 607.7 481.3 613.2 C496.4 618.7 511.5 623.3 526.5 627.8 C541.6 632.3 556.7 636.6 571.8 640.4 C586.9 644.2 602.0 647.9 617.1 650.5 C632.1 653.1 647.2 654.4 662.3 656.0 C677.4 657.6 692.5 659.1 707.6 660.0 C722.7 660.9 737.7 661.2 752.8 661.6 C767.9 662.0 783.0 662.2 798.1 662.1 C813.2 662.0 828.3 661.3 843.3 660.8 C858.4 660.2 873.5 659.6 888.6 658.8 C903.7 658.0 918.8 656.9 933.9 655.8 C948.9 654.7 964.0 653.8 979.1 652.3 C994.2 650.8 1009.3 648.7 1024.4 647.0 C1039.5 645.3 1054.5 643.8 1069.6 641.9 C1084.7 640.0 1099.8 637.6 1114.9 635.6 C1130.0 633.6 1145.1 631.9 1160.1 629.8 C1175.2 627.7 1190.3 625.6 1205.4 623.2 C1220.5 620.8 1235.6 618.2 1250.7 615.6 C1265.7 613.0 1280.8 610.3 1295.9 607.8 C1311.0 605.2 1326.1 603.0 1341.2 600.3 C1356.3 597.6 1371.3 594.7 1386.4 591.7 C1401.5 588.8 1416.6 585.7 1431.7 582.6 C1446.8 579.5 1461.9 576.5 1476.9 573.3 C1492.0 570.1 1507.1 566.5 1522.2 563.2 C1537.3 559.9 1552.4 557.0 1567.5 553.6 C1582.5 550.2 1597.6 546.5 1612.7 543.0 C1627.8 539.5 1642.9 536.2 1658.0 532.3 C1673.1 528.4 1688.1 523.5 1703.2 519.4 C1718.3 515.3 1733.4 511.1 1748.5 507.7 C1763.6 504.3 1782.2 501.0 1793.7 499.1 C1805.3 497.2 1810.5 496.5 1818.0 496.3 C1825.5 496.1 1835.5 497.7 1839.0 498.0" stroke="#000" stroke-width="8" stroke-linecap="round"/>
<g fill="#000" stroke="none">
<circle cx="255.0" cy="494.2" r="11.2"/>
<circle cx="300.3" cy="527.5" r="11.2"/>
<circle cx="345.5" cy="554.0" r="11.2"/>
<circle cx="390.8" cy="574.4" r="11.2"/>
<circle cx="436.0" cy="595.0" r="11.2"/>
<circle cx="481.3" cy="613.2" r="11.2"/>
<circle cx="526.5" cy="627.8" r="11.2"/>
<circle cx="571.8" cy="640.4" r="11.2"/>
<circle cx="617.1" cy="650.5" r="11.2"/>
<circle cx="662.3" cy="656.0" r="11.2"/>
<circle cx="707.6" cy="660.0" r="11.2"/>
<circle cx="752.8" cy="661.6" r="11.2"/>
<circle cx="798.1" cy="662.1" r="11.2"/>
<circle cx="843.3" cy="660.8" r="11.2"/>
<circle cx="888.6" cy="658.8" r="11.2"/>
<circle cx="933.9" cy="655.8" r="11.2"/>
<circle cx="979.1" cy="652.3" r="11.2"/>
<circle cx="1024.4" cy="647.0" r="11.2"/>
<circle cx="1069.6" cy="641.9" r="11.2"/>
<circle cx="1114.9" cy="635.6" r="11.2"/>
<circle cx="1160.1" cy="629.8" r="11.2"/>
<circle cx="1205.4" cy="623.2" r="11.2"/>
<circle cx="1250.7" cy="615.6" r="11.2"/>
<circle cx="1295.9" cy="607.8" r="11.2"/>
<circle cx="1341.2" cy="600.3" r="11.2"/>
<circle cx="1386.4" cy="591.7" r="11.2"/>
<circle cx="1431.7" cy="582.6" r="11.2"/>
<circle cx="1476.9" cy="573.3" r="11.2"/>
<circle cx="1522.2" cy="563.2" r="11.2"/>
<circle cx="1567.5" cy="553.6" r="11.2"/>
<circle cx="1612.7" cy="543.0" r="11.2"/>
<circle cx="1658.0" cy="532.3" r="11.2"/>
<circle cx="1703.2" cy="519.4" r="11.2"/>
<circle cx="1748.5" cy="507.7" r="11.2"/>
<circle cx="1793.7" cy="499.1" r="11.2"/>
<circle cx="1839.0" cy="498.0" r="11.2"/>
</g>
</g>
<g fill="#000" stroke="none" shape-rendering="crispEdges"><rect x="388.5" y="272.8" width="1225.1" height="5.0"/>
<polygon points="356.5,275.3 390.5,266.6 390.5,284.0"/>
<polygon points="1645.6,275.3 1611.6,266.6 1611.6,284.0"/></g>
<g shape-rendering="crispEdges">
<line x1="376.1" y1="361.8" x2="493.2" y2="361.8" stroke="#0000ff" stroke-width="8" stroke-dasharray="11.1 24.1" stroke-linecap="round"/>
<line x1="376.1" y1="451.9" x2="427.4" y2="451.9" stroke="#0000ff" stroke-width="8" stroke-linecap="round"/>
<line x1="460.2" y1="451.9" x2="513.4" y2="451.9" stroke="#0000ff" stroke-width="8" stroke-linecap="round"/>
<circle cx="443.8" cy="451.9" r="11.2" fill="#0000ff"/>
<line x1="826.1" y1="361.8" x2="943.2" y2="361.8" stroke="#ff0000" stroke-width="8" stroke-dasharray="11.1 24.1" stroke-linecap="round"/>
<line x1="827.9" y1="451.9" x2="879.6" y2="451.9" stroke="#ff0000" stroke-width="8" stroke-linecap="round"/>
<line x1="912.4" y1="451.9" x2="965.1" y2="451.9" stroke="#ff0000" stroke-width="8" stroke-linecap="round"/>
<circle cx="896.0" cy="451.9" r="11.2" fill="#ff0000"/>
<line x1="1280.4" y1="361.8" x2="1397.8" y2="361.8" stroke="#000" stroke-width="8" stroke-dasharray="11.1 24.1" stroke-linecap="round"/>
<line x1="1280.4" y1="451.9" x2="1331.5" y2="451.9" stroke="#000" stroke-width="8" stroke-linecap="round"/>
<line x1="1364.3" y1="451.9" x2="1417.9" y2="451.9" stroke="#000" stroke-width="8" stroke-linecap="round"/>
<circle cx="1347.9" cy="451.9" r="11.2" fill="#000"/>
</g>
<text transform="translate(530.7 383.5) scale(1 1.030)" font-size="62.6"><tspan x="0" y="0">S</tspan><tspan x="41.7" y="15.7" font-size="42.5" dx="1.32">11</tspan><tspan x="88.0" y="0"> Sim.</tspan></text>
<text transform="translate(530.7 473.6) scale(1 1.030)" font-size="62.6"><tspan x="0" y="0">S</tspan><tspan x="41.7" y="15.7" font-size="42.5" dx="1.32">11</tspan><tspan x="88.0" y="0"> Mea.</tspan></text>
<text transform="translate(981.7 383.5) scale(1 1.030)" font-size="62.6"><tspan x="0" y="0">S</tspan><tspan x="41.7" y="15.7" font-size="42.5" dx="0 1.32">21</tspan><tspan x="88.0" y="0"> Sim.</tspan></text>
<text transform="translate(983.5 473.6) scale(1 1.030)" font-size="62.6"><tspan x="0" y="0">S</tspan><tspan x="41.7" y="15.7" font-size="42.5" dx="1.32 -1.32">12</tspan><tspan x="88.0" y="0"> Mea.</tspan></text>
<text transform="translate(1436.5 383.5) scale(1 1.030)" font-size="62.6"><tspan x="0" y="0">S</tspan><tspan x="41.7" y="15.7" font-size="42.5">22</tspan><tspan x="88.0" y="0"> Sim.</tspan></text>
<text transform="translate(1435.5 473.6) scale(1 1.030)" font-size="62.6"><tspan x="0" y="0">S</tspan><tspan x="41.7" y="15.7" font-size="42.5">22</tspan><tspan x="88.0" y="0"> Sim.</tspan></text>
<text transform="translate(710.7 161.0) scale(1 1.020)" font-size="67.85"><tspan x="0" y="0">BW</tspan><tspan x="110.5" y="17.5" font-size="44.5">3-dB</tspan><tspan x="206.0" y="0" dx="0 0 2.1 -2.1">: 1.89–3.03 GHz</tspan></text>
<text transform="translate(148.4 77.7) scale(1 1.040)" font-size="62.6" dx="1.94 -1.94">15</text>
<text transform="translate(148.4 199.8) scale(1 1.040)" font-size="62.6" dx="1.94 -1.94">10</text>
<text transform="translate(183.2 321.9) scale(1 1.040)" font-size="62.6">5</text>
<text transform="translate(183.2 444.0) scale(1 1.040)" font-size="62.6">0</text>
<text transform="translate(162.3 566.1) scale(1 1.040)" font-size="62.6">-5</text>
<text transform="translate(127.5 688.2) scale(1 1.040)" font-size="62.6" dx="0 1.94 -1.94">-10</text>
<text transform="translate(127.5 810.3) scale(1 1.040)" font-size="62.6" dx="0 1.94 -1.94">-15</text>
<text transform="translate(127.5 932.4) scale(1 1.040)" font-size="62.6">-20</text>
<text transform="translate(127.5 1054.5) scale(1 1.040)" font-size="62.6">-25</text>
<text transform="translate(127.5 1176.6) scale(1 1.040)" font-size="62.6">-30</text>
<text transform="translate(211.0 1242.7) scale(1 1.040)" font-size="62.6" dx="1.94 -1.94">1.8</text>
<text transform="translate(437.3 1242.7) scale(1 1.040)" font-size="62.6">2.0</text>
<text transform="translate(663.6 1242.7) scale(1 1.040)" font-size="62.6">2.2</text>
<text transform="translate(889.8 1242.7) scale(1 1.040)" font-size="62.6">2.4</text>
<text transform="translate(1116.1 1242.7) scale(1 1.040)" font-size="62.6">2.6</text>
<text transform="translate(1342.4 1242.7) scale(1 1.040)" font-size="62.6">2.8</text>
<text transform="translate(1568.7 1242.7) scale(1 1.040)" font-size="62.6">3.0</text>
<text transform="translate(1795.0 1242.7) scale(1 1.040)" font-size="62.6">3.2</text>
<text transform="translate(787.8 1348.6)" font-size="67.8">Frequency (GHz)</text>
<text transform="translate(82.0 607.3) rotate(-90)" x="-282.6" font-size="67.8">S-Parameters (dB)</text>
</svg></body></html>
